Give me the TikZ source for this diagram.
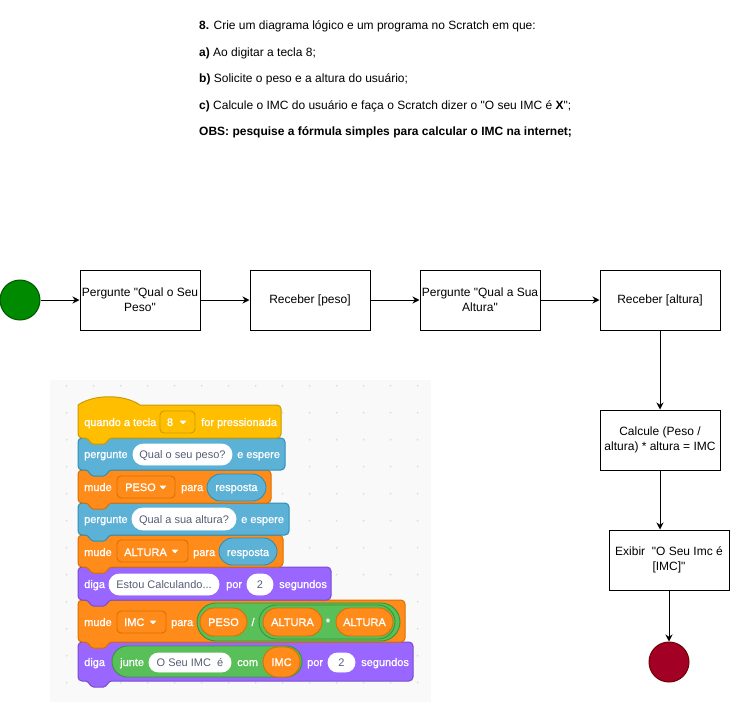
\documentclass[tikz,border=0pt]{standalone}
\usepackage{fontspec}
\setmainfont{Liberation Sans}[Ligatures=TeXOff]
% block labels use a slightly heavier cut of the regular face
\newfontfamily\scrfont{Liberation Sans}[Ligatures=TeXOff, BoldFont={Liberation Sans}, BoldFeatures={FakeBold=0.9}]
\usetikzlibrary{arrows.meta}

% Scratch palette
\definecolor{evfill}{HTML}{FFBF00}\definecolor{evline}{HTML}{CC9900}
\definecolor{snfill}{HTML}{5CB1D6}\definecolor{snline}{HTML}{2E8EB8}
\definecolor{vrfill}{HTML}{FF8C1A}\definecolor{vrline}{HTML}{DB6E00}
\definecolor{lkfill}{HTML}{9966FF}\definecolor{lkline}{HTML}{774DCB}
\definecolor{opfill}{HTML}{59C059}\definecolor{opline}{HTML}{389438}
\definecolor{intext}{HTML}{575E75}
\definecolor{canvas}{HTML}{F9F9F9}
\definecolor{griddot}{HTML}{DDDDDD}
% flowchart terminals
\definecolor{startfill}{HTML}{008A00}\definecolor{startline}{HTML}{005700}
\definecolor{endfill}{HTML}{A20025}\definecolor{endline}{HTML}{6F0000}

% stack block: x0 y0 x1 y1 fill line (with the tab below)
\newcommand\scrblock[6]{%
  \filldraw[fill=#5,draw=#6,line width=1pt]
    ({#1+20},#2) [rounded corners=4pt] -- (#3,#2) -- (#3,#4)
    [rounded corners=1.5pt] -- ({#1+32},#4) -- ({#1+27},{#4+6}) -- ({#1+14},{#4+6}) -- ({#1+9},#4)
    [rounded corners=4pt] -- (#1,#4) -- (#1,#2) -- cycle;}
% hat block
\newcommand\scrhat[6]{%
  \filldraw[fill=#5,draw=#6,line width=1pt]
    (#1,{#2+12}) -- (#1,#2) .. controls ({#1+16},{#2-11}) and ({#1+46},{#2-11}) .. ({#1+62},#2)
    [rounded corners=4pt] -- (#3,#2) -- (#3,#4)
    [rounded corners=1.5pt] -- ({#1+32},#4) -- ({#1+27},{#4+6}) -- ({#1+14},{#4+6}) -- ({#1+9},#4)
    [rounded corners=4pt] -- (#1,#4) -- cycle;}
% round-ended reporter / input
\newcommand\scrpill[6]{%
  \filldraw[fill=#5,draw=#6,line width=0.9pt,rounded corners={((#4-#2)/2-0.01)*1pt}]
    (#1,#2) rectangle (#3,#4);}
% dropdown field
\newcommand\scrfield[6]{%
  \filldraw[fill=#5,draw=#6,line width=0.9pt,rounded corners=4pt] (#1,#2) rectangle (#3,#4);}
% dropdown arrow
\newcommand\scrarrow[2]{%
  \fill[white,rounded corners=0.6pt] ({#1-3.5},{#2-1.5}) -- ({#1+3.5},{#2-1.5}) -- (#1,{#2+2.5}) -- cycle;}

\begin{document}
\begin{tikzpicture}[x=1pt,y=-1pt,
  ttxt/.style={font=\fontsize{12}{15}\selectfont, inner sep=0pt, anchor=base west},
  fbox/.style={draw=black, line width=1pt, fill=white, minimum width=120pt, minimum height=60pt,
               inner sep=0pt, align=center, font=\fontsize{12}{15}\selectfont},
  term/.style={circle, minimum size=40pt, inner sep=0pt, line width=1pt},
  arr/.style={-{Stealth[length=7pt,width=7pt]}, line width=1pt},
  stxt/.style={font=\scrfont\bfseries\fontsize{11}{13}\selectfont, text=white, inner sep=0pt, anchor=base west},
  itxt/.style={font=\scrfont\fontsize{11}{13}\selectfont, text=intext, inner sep=0pt, anchor=base},
  rtxt/.style={font=\scrfont\bfseries\fontsize{11}{13}\selectfont, text=white, inner sep=0pt, anchor=base}]

\useasboundingbox (0,0) rectangle (730,702);
\fill[white] (0,0) rectangle (730,702);

% ---------- exercise statement ----------
\node[ttxt] (q0) at (199,29.5) {\textbf{8.} Crie um diagrama lógico e um programa no Scratch em que:};
\node[ttxt] (q1) at (199,56) {\textbf{a)} Ao digitar a tecla 8;};
\node[ttxt] (q2) at (199,82.5) {\textbf{b)} Solicite o peso e a altura do usuário;};
\node[ttxt] (q3) at (199,109) {\textbf{c)} Calcule o IMC do usuário e faça o Scratch dizer o "O seu IMC é \textbf{X}";};
\node[ttxt] (q4) at (199,135.5) {\textbf{OBS: pesquise a fórmula simples para calcular o IMC na internet;}};

% ---------- flowchart ----------
\node[term, fill=startfill, draw=startline] (start) at (20,300) {};
\node[fbox] (ask1) at (140,300) {Pergunte "Qual o Seu\\Peso"};
\node[fbox] (get1) at (310,300) {Receber [peso]};
\node[fbox] (ask2) at (480,300) {Pergunte "Qual a Sua\\Altura"};
\node[fbox] (get2) at (660,300) {Receber [altura]};
\node[fbox] (calc) at (660,440) {Calcule (Peso /\\altura) * altura = IMC};
\node[fbox] (show) at (669,560) {Exibir\ \ "O Seu Imc é\\{[IMC]"}};
\node[term, fill=endfill, draw=endline] (stop) at (669,662) {};

\draw[arr] (start) -- (ask1);
\draw[arr] (ask1) -- (get1);
\draw[arr] (get1) -- (ask2);
\draw[arr] (ask2) -- (get2);
\draw[arr] (get2) -- (calc);
\draw[arr] (calc.south) -- (calc.south |- show.north);
\draw[arr] (stop.north |- show.south) -- (stop);

% ---------- Scratch canvas ----------
\fill[canvas] (50,380) rectangle (431,702);
\foreach \i in {0,...,13}
  \foreach \j in {0,...,11}
    \fill[griddot] ({66.7+27*\i},{385.7+27*\j}) circle (1pt);

% block bodies, lowest first so each tab overlaps the block below
\scrblock{78}{642}{413}{681}{lkfill}{lkline}
\scrblock{78}{600}{405}{642}{vrfill}{vrline}
\scrblock{78}{567}{331}{600}{lkfill}{lkline}
\scrblock{78}{535}{283}{567}{vrfill}{vrline}
\scrblock{78}{503}{289}{535}{snfill}{snline}
\scrblock{78}{470}{271}{503}{vrfill}{vrline}
\scrblock{78}{438}{285}{470}{snfill}{snline}
\scrhat{78}{405}{281}{438}{evfill}{evline}

% when key pressed
\node[stxt] (b1a) at (84,426) {quando a tecla};
\scrfield{160}{411}{195}{433}{evfill}{evline}
\node[rtxt] (b1k) at (170,426) {8};
\scrarrow{183}{422}
\node[stxt] (b1b) at (201,426) {for pressionada};

% ask weight
\node[stxt] (b2a) at (84,458) {pergunte};
\scrpill{133}{444}{232}{465}{white}{white}
\node[itxt] (b2i) at (182.5,458) {Qual o seu peso?};
\node[stxt] (b2b) at (237,458) {e espere};

% set PESO
\node[stxt] (b3a) at (84,491) {mude};
\scrfield{117}{476}{175}{498}{vrfill}{vrline}
\node[stxt] (b3v) at (125,491) {PESO};
\scrarrow{163}{487}
\node[stxt] (b3b) at (181,491) {para};
\scrpill{207}{474}{266}{501}{snfill}{snline}
\node[rtxt] (b3r) at (236.5,491) {resposta};

% ask height
\node[stxt] (b4a) at (84,523) {pergunte};
\scrpill{132}{508}{236}{530}{white}{white}
\node[itxt] (b4i) at (184,523) {Qual a sua altura?};
\node[stxt] (b4b) at (241,523) {e espere};

% set ALTURA
\node[stxt] (b5a) at (84,556) {mude};
\scrfield{117}{540}{188}{562}{vrfill}{vrline}
\node[stxt] (b5v) at (124,556) {ALTURA};
\scrarrow{175}{551}
\node[stxt] (b5b) at (193,556) {para};
\scrpill{219}{538}{277}{565}{snfill}{snline}
\node[rtxt] (b5r) at (248,556) {resposta};

% say for 2 seconds
\node[stxt] (b6a) at (84,588) {diga};
\scrpill{109}{574}{219}{595}{white}{white}
\node[itxt] (b6i) at (164,588) {Estou Calculando...};
\node[stxt] (b6b) at (226,588) {por};
\scrpill{247}{574}{273}{595}{white}{white}
\node[itxt] (b6n) at (260,588) {2};
\node[stxt] (b6c) at (279,588) {segundos};

% set IMC
\node[stxt] (b7a) at (84,626) {mude};
\scrfield{117}{611}{166}{633}{vrfill}{vrline}
\node[stxt] (b7v) at (124,626) {IMC};
\scrarrow{153}{622}
\node[stxt] (b7b) at (171,626) {para};
\scrpill{197}{603}{400}{641}{opfill}{opline}
\scrpill{200}{608}{247}{636}{vrfill}{vrline}
\node[rtxt] (b7p) at (223.5,626) {PESO};
\node[rtxt] (b7d) at (253,626) {/};
\scrpill{259}{605}{395}{639}{opfill}{opline}
\scrpill{263}{608}{322}{636}{vrfill}{vrline}
\node[rtxt] (b7h1) at (292.5,626) {ALTURA};
\node[rtxt] (b7m) at (328,626) {*};
\scrpill{336}{608}{393}{636}{vrfill}{vrline}
\node[rtxt] (b7h2) at (364.5,626) {ALTURA};

% say joined text
\node[stxt] (b8a) at (84,666) {diga};
\scrpill{112}{646}{302}{677}{opfill}{opline}
\node[stxt] (b8j) at (120,666) {junte};
\scrpill{149}{653}{231}{672}{white}{white}
\node[itxt] (b8i) at (190,666) {O Seu IMC\ \ é};
\node[stxt] (b8c) at (237,666) {com};
\scrpill{263}{647}{300}{677}{vrfill}{vrline}
\node[rtxt] (b8v) at (281.5,666) {IMC};
\node[stxt] (b8b) at (307,666) {por};
\scrpill{328}{653}{355}{672}{white}{white}
\node[itxt] (b8n) at (341.5,666) {2};
\node[stxt] (b8s) at (361,666) {segundos};
\end{tikzpicture}
\end{document}
